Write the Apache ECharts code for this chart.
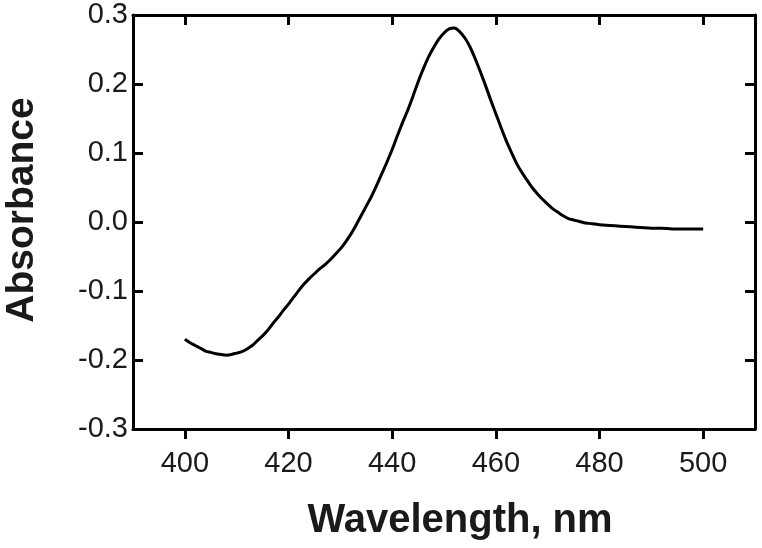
<!DOCTYPE html>
<html>
<head>
<meta charset="utf-8">
<script src="https://cdn.jsdelivr.net/npm/echarts@6/dist/echarts.min.js"></script>
<style>html,body{margin:0;padding:0;background:#fff}#c{width:762px;height:548px}</style>
</head>
<body>
<div id="c"></div>
<script>
const wavelength = [400,401,402,403,404,405,406,407,408,409,410,411,412,413,414,415,416,417,418,419,420,421,422,423,424,425,426,427,428,429,430,431,432,433,434,435,436,437,438,439,440,441,442,443,444,445,446,447,448,449,450,451,452,453,454,455,456,457,458,459,460,461,462,463,464,465,466,467,468,469,470,471,472,473,474,475,476,477,478,480,482,484,486,488,490,492,494,496,498,500];
const absorbance = [-0.170,-0.175,-0.179,-0.183,-0.187,-0.189,-0.191,-0.192,-0.193,-0.192,-0.190,-0.188,-0.184,-0.179,-0.172,-0.165,-0.157,-0.147,-0.138,-0.128,-0.119,-0.109,-0.099,-0.090,-0.082,-0.075,-0.068,-0.062,-0.055,-0.047,-0.039,-0.029,-0.018,-0.005,0.009,0.023,0.037,0.053,0.070,0.087,0.105,0.125,0.144,0.162,0.182,0.203,0.222,0.239,0.253,0.265,0.274,0.280,0.281,0.276,0.267,0.254,0.237,0.218,0.198,0.177,0.157,0.137,0.118,0.101,0.085,0.072,0.061,0.050,0.041,0.033,0.026,0.019,0.014,0.009,0.005,0.003,0.001,-0.001,-0.002,-0.004,-0.005,-0.006,-0.007,-0.008,-0.009,-0.009,-0.010,-0.010,-0.010,-0.010];
const xTicks = [400,420,440,460,480,500];
const yTicks = [-0.3,-0.2,-0.1,0.0,0.1,0.2,0.3];

const chart = echarts.init(document.getElementById('c'), null, {renderer:'canvas'});
const lineStyle = {color:'#000', width:3};
const font = 'Liberation Sans, Arial, sans-serif';
chart.setOption({
  animation:false,
  backgroundColor:'#fff',
  grid:{left:133, right:7, top:15, bottom:119, containLabel:false, outerBoundsMode:'none'},
  xAxis:[{
    type:'value', min:390, max:510, position:'bottom',
    axisLine:{show:true, onZero:false, lineStyle},
    axisTick:{show:true, inside:false, length:10, lineStyle, customValues:xTicks},
    axisLabel:{show:true, customValues:xTicks, margin:20, fontSize:29, color:'#1a1a1a', fontFamily:font},
    splitLine:{show:false},
    name:'Wavelength, nm', nameLocation:'middle', nameGap:72,
    nameTextStyle:{fontSize:40, fontWeight:'bold', color:'#1a1a1a', fontFamily:font, padding:[0,0,0,32]}
  },{
    type:'value', min:390, max:510, position:'top',
    axisLine:{show:true, onZero:false, lineStyle},
    axisTick:{show:true, inside:true, length:10, lineStyle, customValues:xTicks},
    axisLabel:{show:false}, splitLine:{show:false}
  }],
  yAxis:[{
    type:'value', min:-0.3, max:0.3, interval:0.1, position:'left',
    axisLine:{show:true, onZero:false, lineStyle},
    axisTick:{show:true, inside:true, length:10, lineStyle, customValues:yTicks},
    axisLabel:{show:true, customValues:yTicks, margin:5, fontSize:29, color:'#1a1a1a', fontFamily:font,
      formatter:v=>Number(v).toFixed(1)},
    splitLine:{show:false},
    name:'Absorbance', nameLocation:'middle', nameGap:91,
    nameTextStyle:{fontSize:39, fontWeight:'bold', color:'#1a1a1a', fontFamily:font, padding:[0,0,0,24]}
  },{
    type:'value', min:-0.3, max:0.3, interval:0.1, position:'right',
    axisLine:{show:true, onZero:false, lineStyle},
    axisTick:{show:true, inside:true, length:10, lineStyle, customValues:yTicks},
    axisLabel:{show:false}, splitLine:{show:false}
  }],
  series:[{
    type:'line', xAxisIndex:0, yAxisIndex:0,
    data: wavelength.map((w,i)=>[w, absorbance[i]]),
    showSymbol:false, smooth:0.3,
    lineStyle:{color:'#000', width:3}
  }]
});
</script>
</body>
</html>
